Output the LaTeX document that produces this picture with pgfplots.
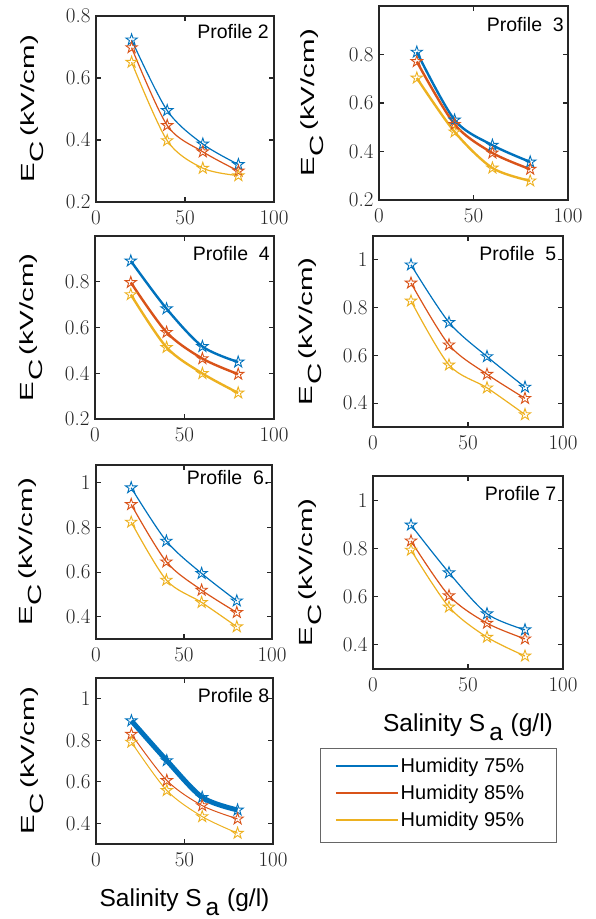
\documentclass[border=0pt]{standalone}
\usepackage[no-math]{fontspec}
\setmainfont{Liberation Sans}
\newcommand\lmr{\fontfamily{lmr}\selectfont}
\usepackage{graphicx}
\usepackage{pgfplots}
\pgfplotsset{compat=1.18}
\definecolor{c1}{rgb}{0,0.447,0.741}
\definecolor{c2}{rgb}{0.85,0.325,0.098}
\definecolor{c3}{rgb}{0.929,0.694,0.125}
\definecolor{axc}{rgb}{0.15,0.15,0.15}
\pgfdeclareplotmark{pent}{%
  \pgfpathmoveto{\pgfpointpolar{90}{\pgfplotmarksize}}%
  \pgfpathlineto{\pgfpointpolar{126}{0.382*\pgfplotmarksize}}%
  \pgfpathlineto{\pgfpointpolar{162}{\pgfplotmarksize}}%
  \pgfpathlineto{\pgfpointpolar{198}{0.382*\pgfplotmarksize}}%
  \pgfpathlineto{\pgfpointpolar{234}{\pgfplotmarksize}}%
  \pgfpathlineto{\pgfpointpolar{270}{0.382*\pgfplotmarksize}}%
  \pgfpathlineto{\pgfpointpolar{306}{\pgfplotmarksize}}%
  \pgfpathlineto{\pgfpointpolar{342}{0.382*\pgfplotmarksize}}%
  \pgfpathlineto{\pgfpointpolar{18}{\pgfplotmarksize}}%
  \pgfpathlineto{\pgfpointpolar{54}{0.382*\pgfplotmarksize}}%
  \pgfpathclose
  \pgfusepathqstroke
}
\newcommand\pfont{\fontsize{19.5}{22}\selectfont}
\tikzset{pl/.style={font=\pfont, anchor=north east, inner sep=0pt}}
\pgfplotsset{
  pax/.style={
    scale only axis, anchor=north west,
    xmin=0, xmax=100, xtick={0,50,100},
    tick align=inside, major tick length=5pt,
    axis line style={line width=1.4pt, axc},
    every tick/.append style={line width=1.1pt, axc},
    /pgf/number format/assume math mode=true,
    xticklabel={\lmr\pgfmathprintnumber{\tick}},
    yticklabel={\lmr\pgfmathprintnumber{\tick}},
    tick label style={font=\fontsize{21}{24}\selectfont, text=axc},
    xticklabel style={yshift=-5pt},
    yticklabel style={xshift=-2pt},
    ylabel={\scalebox{1.55}[1]{E\hspace{0.5pt}\raisebox{-9pt}{C}\hspace{3pt}(kV/cm)}},
    ylabel style={font=\fontsize{19}{22}\selectfont, anchor=base},
  },
  sal/.style={
    xlabel={Salinity S\hspace{4pt}\raisebox{-9pt}{a}\hspace{1pt} (g/l)},
    xlabel style={font=\fontsize{24.5}{28}\selectfont, at={(axis description cs:0.5,0)}, anchor=base, yshift=-62pt},
  },
  sA/.style={c1, smooth, line width=#1, mark=pent, mark size=6pt, mark options={solid, line width=0.9pt}},
  sB/.style={c2, smooth, line width=#1, mark=pent, mark size=6pt, mark options={solid, line width=0.9pt}},
  sC/.style={c3, smooth, line width=#1, mark=pent, mark size=6pt, mark options={solid, line width=0.9pt}},
}
\begin{document}
\begin{tikzpicture}
\useasboundingbox (0,0) rectangle (596pt,-919pt);
% Profile 2
\begin{axis}[pax, at={(96pt,-16pt)}, width=178pt, height=186pt,
  ymin=0.2, ymax=0.8, ytick={0.2,0.4,0.6,0.8},
  ylabel style={at={(axis description cs:-0.343,0.5)}}]
\addplot[sA=1.2pt] coordinates {(20,0.723)(40,0.495)(60,0.387)(80,0.321)};
\addplot[sB=1.2pt] coordinates {(20,0.698)(40,0.447)(60,0.362)(80,0.300)};
\addplot[sC=1.2pt] coordinates {(20,0.651)(40,0.398)(60,0.309)(80,0.285)};
\node[pl, xshift=-5pt, yshift=-8pt] at (rel axis cs:1,1) {Profile 2};
\end{axis}
% Profile 3
\begin{axis}[pax, at={(379pt,-6pt)}, width=189pt, height=194pt,
  ymin=0.2, ymax=1.0, ytick={0.2,0.4,0.6,0.8},
  ylabel style={at={(axis description cs:-0.339,0.5)}}]
\addplot[sA=2.4pt] coordinates {(20,0.810)(40,0.530)(60,0.426)(80,0.357)};
\addplot[sB=2.4pt] coordinates {(20,0.771)(40,0.512)(60,0.394)(80,0.327)};
\addplot[sC=2.4pt] coordinates {(20,0.703)(40,0.481)(60,0.332)(80,0.279)};
\node[pl, xshift=-4pt, yshift=-11pt] at (rel axis cs:1,1) {Profile\ \ 3};
\end{axis}
% Profile 4
\begin{axis}[pax, at={(95pt,-236pt)}, width=179pt, height=183pt,
  ymin=0.2, ymax=1.0, ytick={0.2,0.4,0.6,0.8},
  ylabel style={at={(axis description cs:-0.346,0.5)}}]
\addplot[sA=2.4pt] coordinates {(20,0.891)(40,0.682)(60,0.517)(80,0.449)};
\addplot[sB=2.4pt] coordinates {(20,0.797)(40,0.579)(60,0.464)(80,0.396)};
\addplot[sC=2.4pt] coordinates {(20,0.744)(40,0.513)(60,0.399)(80,0.314)};
\node[pl, xshift=-4pt, yshift=-10pt] at (rel axis cs:1,1) {Profile\ \ 4};
\end{axis}
% Profile 5
\begin{axis}[pax, at={(373pt,-236pt)}, width=190pt, height=191pt,
  ymin=0.3, ymax=1.1, ytick={0.4,0.6,0.8,1},
  ylabel style={at={(axis description cs:-0.316,0.5)}}]
\addplot[sA=1.2pt] coordinates {(20,0.979)(40,0.738)(60,0.595)(80,0.467)};
\addplot[sB=1.2pt] coordinates {(20,0.903)(40,0.644)(60,0.521)(80,0.420)};
\addplot[sC=1.2pt] coordinates {(20,0.828)(40,0.560)(60,0.464)(80,0.352)};
\node[pl, xshift=-6.5pt, yshift=-10pt] at (rel axis cs:1,1) {Profile\ \ 5};
\end{axis}
% Profile 6
\begin{axis}[pax, at={(96pt,-465pt)}, width=176pt, height=174pt,
  ymin=0.3, ymax=1.08, ytick={0.4,0.6,0.8,1},
  ylabel style={at={(axis description cs:-0.358,0.5)}}]
\addplot[sA=1.2pt] coordinates {(20,0.978)(40,0.739)(60,0.594)(80,0.471)};
\addplot[sB=1.2pt] coordinates {(20,0.903)(40,0.646)(60,0.519)(80,0.419)};
\addplot[sC=1.2pt] coordinates {(20,0.824)(40,0.564)(60,0.464)(80,0.355)};
\node[pl, xshift=-2.5pt, yshift=-5pt] at (rel axis cs:1,1) {Profile\ \ 6.};
\end{axis}
% Profile 7
\begin{axis}[pax, sal, at={(373pt,-476pt)}, width=190pt, height=193pt,
  ymin=0.3, ymax=1.1, ytick={0.4,0.6,0.8,1},
  ylabel style={at={(axis description cs:-0.321,0.5)}}]
\addplot[sA=1.2pt] coordinates {(20,0.897)(40,0.699)(60,0.529)(80,0.4625)};
\addplot[sB=1.2pt] coordinates {(20,0.831)(40,0.604)(60,0.490)(80,0.425)};
\addplot[sC=1.2pt] coordinates {(20,0.793)(40,0.557)(60,0.432)(80,0.354)};
\node[pl, xshift=-6.5pt, yshift=-10pt] at (rel axis cs:1,1) {Profile 7};
\end{axis}
% Profile 8
\begin{axis}[pax, sal, at={(96pt,-678pt)}, width=177pt, height=166pt,
  ymin=0.3, ymax=1.1, ytick={0.4,0.6,0.8,1},
  ylabel style={at={(axis description cs:-0.345,0.5)}}]
\addplot[sA=5pt] coordinates {(20,0.894)(40,0.702)(60,0.525)(80,0.464)};
\addplot[sB=1pt] coordinates {(20,0.829)(40,0.606)(60,0.485)(80,0.421)};
\addplot[sC=1pt] coordinates {(20,0.791)(40,0.558)(60,0.432)(80,0.352)};
\node[pl, xshift=-3.5pt, yshift=-10pt] at (rel axis cs:1,1) {Profile 8};
\end{axis}
% Legend box
\begin{axis}[scale only axis, anchor=north west, at={(320pt,-748pt)}, width=236pt, height=94pt,
  xmin=0, xmax=1, ymin=0, ymax=1, xtick=\empty, ytick=\empty,
  axis line style={line width=0.9pt, black!60},
  legend cell align=left,
  legend image code/.code={\draw[#1] (0pt,0pt) -- (62pt,0pt);},
  legend style={at={(axis description cs:0.0636,0.52)}, anchor=west, draw=none, fill=none,
    inner sep=0pt, font=\fontsize{20}{24}\selectfont, row sep=7pt,
    /tikz/every even column/.append style={column sep=5pt}}]
\addlegendimage{c1, line width=1.5pt}
\addlegendentry{Humidity 75\%}
\addlegendimage{c2, line width=1.5pt}
\addlegendentry{Humidity 85\%}
\addlegendimage{c3, line width=1.5pt}
\addlegendentry{Humidity 95\%}
\end{axis}
\end{tikzpicture}
\end{document}
